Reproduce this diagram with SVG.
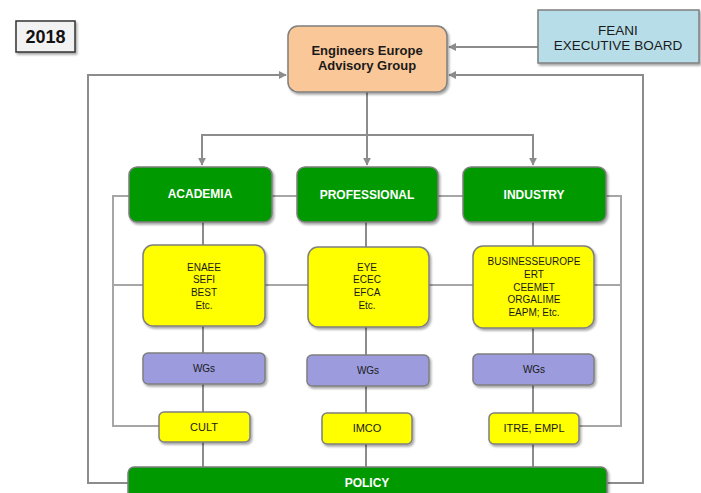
<svg xmlns="http://www.w3.org/2000/svg" width="701" height="493" viewBox="0 0 701 493">
<defs>
<marker id="ah" viewBox="0 0 10 10" refX="9" refY="5" markerWidth="4" markerHeight="4" orient="auto" markerUnits="strokeWidth">
<path d="M0,0 L10,5 L0,10 z" fill="#8c8c8c"/>
</marker>
<filter id="sh" x="-10%" y="-10%" width="130%" height="140%">
<feDropShadow dx="1.5" dy="2" stdDeviation="1.2" flood-color="#000" flood-opacity="0.35"/>
</filter>
</defs>
<style>
.ln{fill:none;stroke:#8c8c8c;stroke-width:2}
.lt{fill:none;stroke:#a6a6a6;stroke-width:2}
.box{stroke:#7f7f7f;stroke-width:1.5;filter:url(#sh)}
.green{fill:#009900}
.yel{fill:#ffff00}
.wg{fill:#9b9bdd}
.t{font-family:"Liberation Sans",Arial,sans-serif;text-anchor:middle}
.tw{fill:#ffffff;font-weight:bold;font-size:12px}
.td{fill:#1a1a1a;font-size:10px}
.tc{fill:#1a1a1a;font-size:11px}
.tb{fill:#1a1a1a;font-size:13px;font-weight:bold}
</style>
<g id="connectors">
<line class="ln" x1="538" y1="47" x2="449" y2="47" marker-end="url(#ah)"/>
<polyline class="ln" points="607,483 643,483 643,75 449,75" marker-end="url(#ah)"/>
<polyline class="ln" points="128,483 88,483 88,75 286,75" marker-end="url(#ah)"/>
<line class="ln" x1="367" y1="92" x2="367" y2="165" marker-end="url(#ah)"/>
<polyline class="ln" points="202,165 202,135 533,135 533,165" marker-end="url(#ah)"/>
<line class="ln" x1="202" y1="140" x2="202" y2="165" marker-end="url(#ah)"/>
<line class="lt" x1="272" y1="196" x2="297" y2="196"/>
<line class="lt" x1="438" y1="196" x2="463" y2="196"/>
<polyline class="lt" points="129,196 113,196 113,426 159,426"/>
<polyline class="lt" points="606,196 621,196 621,426 579,426"/>
<line class="lt" x1="113" y1="285" x2="143" y2="285"/>
<line class="lt" x1="265" y1="285" x2="308" y2="285"/>
<line class="lt" x1="429" y1="285" x2="473" y2="285"/>
<line class="lt" x1="594" y1="285" x2="621" y2="285"/>
<line class="ln" x1="203" y1="222" x2="203" y2="467"/>
<line class="ln" x1="366" y1="222" x2="366" y2="467"/>
<line class="ln" x1="533" y1="222" x2="533" y2="467"/>
</g>
<g id="year">
<rect x="16" y="21" width="59" height="31" fill="#f2f2f2" stroke="#333" stroke-width="1.5" filter="url(#sh)"/>
<text class="t" x="45.5" y="43" font-size="18" font-weight="bold" fill="#111">2018</text>
</g>
<g id="feani">
<rect class="box" x="538" y="10" width="161" height="53" fill="#b7dee8"/>
<text class="t" x="618" y="35" font-size="13.5" fill="#1a1a1a">FEANI</text>
<text class="t" x="618" y="50" font-size="13.5" fill="#1a1a1a">EXECUTIVE  BOARD</text>
</g>
<g id="ee">
<rect class="box" x="288" y="26" width="159" height="66" rx="10" fill="#fac898"/>
<text class="t tb" x="367" y="55">Engineers Europe</text>
<text class="t tb" x="367" y="70">Advisory Group</text>
</g>
<g id="academia">
<rect class="box green" x="129" y="167" width="143" height="55" rx="8"/>
<text class="t tw" x="200" y="198">ACADEMIA</text>
</g>
<g id="professional">
<rect class="box green" x="297" y="167" width="141" height="55" rx="8"/>
<text class="t tw" x="367" y="199">PROFESSIONAL</text>
</g>
<g id="industry">
<rect class="box green" x="463" y="167" width="143" height="55" rx="8"/>
<text class="t tw" x="534" y="199">INDUSTRY</text>
</g>
<g id="acad-orgs">
<rect class="box yel" x="143" y="245" width="122" height="81" rx="10"/>
<text class="t td" x="204" y="271">ENAEE</text>
<text class="t td" x="204" y="283">SEFI</text>
<text class="t td" x="204" y="296">BEST</text>
<text class="t td" x="204" y="309">Etc.</text>
</g>
<g id="prof-orgs">
<rect class="box yel" x="308" y="247" width="121" height="80" rx="10"/>
<text class="t td" x="367" y="271">EYE</text>
<text class="t td" x="367" y="283">ECEC</text>
<text class="t td" x="367" y="296">EFCA</text>
<text class="t td" x="367" y="309">Etc.</text>
</g>
<g id="ind-orgs">
<rect class="box yel" x="473" y="246" width="121" height="82" rx="10"/>
<text class="t td" x="534" y="265">BUSINESSEUROPE</text>
<text class="t td" x="534" y="278">ERT</text>
<text class="t td" x="534" y="291">CEEMET</text>
<text class="t td" x="534" y="303">ORGALIME</text>
<text class="t td" x="534" y="316">EAPM; Etc.</text>
</g>
<g id="wg1">
<rect class="box wg" x="143" y="353" width="122" height="31" rx="5"/>
<text class="t td" x="204" y="372">WGs</text>
</g>
<g id="wg2">
<rect class="box wg" x="307" y="355" width="122" height="31" rx="5"/>
<text class="t td" x="368" y="374">WGs</text>
</g>
<g id="wg3">
<rect class="box wg" x="473" y="354" width="121" height="31" rx="5"/>
<text class="t td" x="534" y="373">WGs</text>
</g>
<g id="cult">
<rect class="box yel" x="159" y="412" width="91" height="30" rx="5"/>
<text class="t tc" x="204" y="431">CULT</text>
</g>
<g id="imco">
<rect class="box yel" x="322" y="413" width="90" height="31" rx="5"/>
<text class="t tc" x="367" y="432">IMCO</text>
</g>
<g id="itre">
<rect class="box yel" x="489" y="413" width="90" height="31" rx="5"/>
<text class="t tc" x="534" y="432">ITRE, EMPL</text>
</g>
<g id="policy">
<rect class="box green" x="128" y="467" width="479" height="40" rx="6"/>
<text class="t tw" x="367" y="487">POLICY</text>
</g>
</svg>
